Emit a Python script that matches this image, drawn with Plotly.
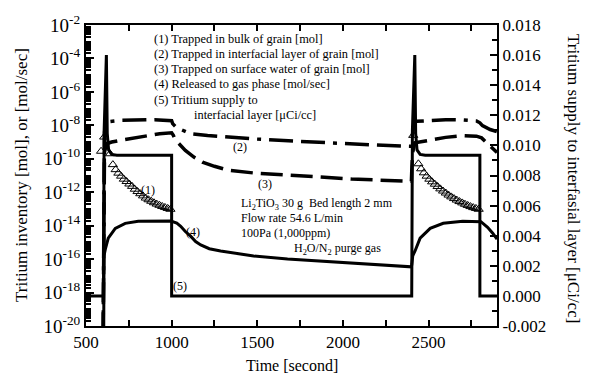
import plotly.graph_objects as go

# ---------------- data ----------------
# (1) Trapped in bulk of grain [mol]  -> log10 values (markers only)
t1 = [588, 606, 640, 657, 673, 689, 705, 721, 737, 753, 769, 785, 801, 817, 833, 849, 865, 881,
      897, 913, 929, 945, 961, 977, 993,
      2411, 2441, 2457, 2473, 2489, 2505, 2521, 2537, 2553, 2569, 2585, 2601, 2617, 2633, 2649,
      2665, 2681, 2697, 2713, 2729, 2745, 2761, 2777, 2793]
l1 = [-9.55, -8.7, -9.7, -10.35, -10.65, -10.86, -11.04, -11.22, -11.36, -11.51, -11.65, -11.82,
      -11.96, -12.09, -12.22, -12.35, -12.45, -12.54, -12.63, -12.71, -12.78, -12.85, -12.91,
      -12.97, -13.02,
      -8.6, -10.3, -10.6, -10.84, -11.04, -11.22, -11.38, -11.52, -11.66, -11.8, -11.93, -12.05,
      -12.17, -12.28, -12.38, -12.47, -12.56, -12.64, -12.72, -12.79, -12.86, -12.92, -12.97, -13.02]

# (2) Trapped in interfacial layer of grain [mol]
t2 = [600, 603, 608, 615, 630, 700, 800, 900, 1000, 1006, 1030, 1064, 1111, 1210, 1345, 1491,
      1654, 1753, 1899, 2057, 2174, 2366, 2400, 2403, 2408, 2415, 2430, 2500, 2600, 2700, 2780,
      2800, 2815, 2860, 2900]
l2 = [-20.5, -10.5, -8.4, -7.95, -7.78, -7.70, -7.66, -7.66, -7.72, -7.90, -8.14, -8.31, -8.50,
      -8.61, -8.72, -8.82, -8.91, -8.96, -9.06, -9.14, -9.17, -9.24, -9.25, -8.8, -8.2, -7.9,
      -7.76, -7.70, -7.66, -7.68, -7.74, -7.85, -8.02, -8.25, -8.38]

# (3) Trapped on surface water of grain [mol]
t3 = [600, 603, 608, 620, 650, 700, 790, 850, 930, 1000, 1010, 1020, 1050, 1080, 1130, 1180,
      1250, 1330, 1480, 1650, 1850, 2050, 2350, 2400, 2403, 2408, 2420, 2500, 2600, 2700, 2780,
      2810, 2840, 2870, 2900]
l3 = [-20.5, -11.5, -9.6, -9.1, -9.0, -8.9, -8.73, -8.6, -8.5, -8.45, -8.6, -8.85, -9.2, -9.5,
      -9.9, -10.2, -10.45, -10.68, -10.85, -10.97, -11.09, -11.21, -11.33, -11.35, -10.5, -9.6,
      -9.05, -8.88, -8.72, -8.62, -8.65, -8.75, -9.05, -9.35, -9.62]

# (4) Released to gas phase [mol/sec]
t4 = [603, 605, 613, 630, 671, 729, 805, 900, 1000, 1006, 1030, 1053, 1080, 1111, 1140, 1170,
      1220, 1286, 1380, 1479, 1677, 1870, 2062, 2261, 2400, 2403, 2408, 2422, 2451, 2510, 2586,
      2700, 2800, 2806, 2845, 2875, 2900]
l4 = [-22, -15.8, -15.4, -14.75, -14.16, -13.86, -13.74, -13.72, -13.72, -13.76, -13.85, -14.04,
      -14.35, -14.63, -14.95, -15.15, -15.38, -15.52, -15.68, -15.81, -15.99, -16.11, -16.22,
      -16.34, -16.46, -16.3, -15.8, -15.5, -14.75, -14.16, -13.86, -13.74, -13.72, -13.76,
      -14.1, -14.45, -14.81]

# (5) Tritium supply to interfacial layer [uCi/cc] (right axis)
t5 = [500, 602, 606, 619, 624, 632, 650, 680, 1000, 1000, 2402, 2406, 2420, 2425, 2433, 2451,
      2481, 2800, 2800, 2900]
v5 = [0, 0, 0.0110, 0.0160, 0.0108, 0.0097, 0.0094, 0.00935, 0.00935, 0, 0, 0.0110, 0.0160,
      0.0108, 0.0097, 0.0094, 0.00935, 0.00935, 0, 0]

x_ticks = [500, 1000, 1500, 2000, 2500]
x_labels = ["500", "1000", "1500", "2000", "2500"]
y_exps = [-20, -18, -16, -14, -12, -10, -8, -6, -4, -2]
y2_ticks = [-0.002, 0.000, 0.002, 0.004, 0.006, 0.008, 0.010, 0.012, 0.014, 0.016, 0.018]
y2_labels = ["-0.002", "0.000", "0.002", "0.004", "0.006", "0.008", "0.010", "0.012",
             "0.014", "0.016", "0.018"]

# ---------------- figure ----------------
FONT = "Liberation Serif, Times New Roman, serif"
fig = go.Figure()

fig.add_trace(go.Scatter(x=t2, y=[10 ** v for v in l2], mode="lines",
                         line=dict(color="black", width=3.5, dash="24px,8px,24px,8px,4px,8px")))
fig.add_trace(go.Scatter(x=t3, y=[10 ** v for v in l3], mode="lines",
                         line=dict(color="black", width=3.5, dash="22px,8px")))
fig.add_trace(go.Scatter(x=t4, y=[10 ** v for v in l4], mode="lines",
                         line=dict(color="black", width=3)))
fig.add_trace(go.Scatter(x=t5, y=v5, mode="lines", yaxis="y2",
                         line=dict(color="black", width=3)))
# (1) is drawn on a twin log axis (same range) which carries the small log ticks
fig.add_trace(go.Scatter(x=t1, y=[10 ** v for v in l1], mode="markers", yaxis="y3",
                         marker=dict(symbol="triangle-up-open", size=8, color="black",
                                     line=dict(width=1, color="black"))))

ytickvals = [10.0 ** e for e in y_exps]
yticktext = ["10<sup>%d</sup>" % e for e in y_exps]
ysmall = [m * 10.0 ** e for e in range(-20, -2) for m in range(1, 10)]

fig.update_layout(
    width=593, height=377,
    margin=dict(l=86, r=96, t=21, b=51),
    paper_bgcolor="white", plot_bgcolor="white",
    showlegend=False,
    font=dict(family=FONT, color="black", size=17),
    xaxis=dict(range=[500, 2900], tickmode="array", tickvals=x_ticks, ticktext=x_labels,
               ticks="inside", ticklen=6, tickwidth=1.5, tickcolor="black",
               minor=dict(dtick=250, tick0=500, ticks="inside", ticklen=6, tickwidth=1.5,
                          tickcolor="black"),
               showline=True, linewidth=2, linecolor="black", mirror="allticks",
               showgrid=False, zeroline=False, tickfont=dict(size=17, family=FONT, color="black")),
    yaxis=dict(type="log", range=[-20, -2], tickmode="array", tickvals=ytickvals,
               ticktext=yticktext, ticks="inside", ticklen=8, tickwidth=2, tickcolor="black",
               showline=True, linewidth=2, linecolor="black", showgrid=False,
               zeroline=False, tickfont=dict(size=19, family=FONT, color="black")),
    yaxis3=dict(type="log", range=[-20, -2], overlaying="y", side="left", anchor="x",
                tickmode="array", tickvals=ysmall, showticklabels=False, ticks="inside",
                ticklen=5, tickwidth=1.6, tickcolor="black", showline=False, showgrid=False,
                zeroline=False),
    yaxis2=dict(overlaying="y", side="right", range=[-0.002, 0.018], tickmode="array",
                tickvals=y2_ticks, ticktext=y2_labels, ticks="inside", ticklen=7, tickwidth=1.6,
                tickcolor="black",
                minor=dict(dtick=0.001, ticks="inside", ticklen=5, tickwidth=1.6,
                           tickcolor="black"),
                showline=True, linewidth=2, linecolor="black", showgrid=False, zeroline=False,
                tickfont=dict(size=17, family=FONT, color="black")),
)

W0, W1, H0, H1 = 86, 497, 21, 326


def px(x):
    return (x - W0) / (W1 - W0)


def py(y):
    return (H1 - y) / (H1 - H0)


def note(text, x, y, size=12, xanchor="left", angle=0):
    fig.add_annotation(text=text, x=px(x), y=py(y), xref="paper", yref="paper",
                       showarrow=False, xanchor=xanchor, yanchor="middle", textangle=angle,
                       font=dict(size=size, family=FONT, color="#000000"))


legend_lines = ["(1) Trapped in bulk of grain [mol]",
                "(2) Trapped in interfacial layer of grain [mol]",
                "(3) Trapped on surface water of grain [mol]",
                "(4) Released to gas phase [mol/sec]",
                "(5) Tritium supply to"]
for i, s in enumerate(legend_lines):
    note(s, 152, 35 + i * 15.4, size=12.4)
note("interfacial layer [μCi/cc]", 192, 112, size=12.4)

note("Li<sub>2</sub>TiO<sub>3</sub> 30 g\u00a0\u00a0Bed length 2 mm", 239, 202)
note("Flow rate 54.6 L/min", 239, 217)
note("100Pa (1,000ppm)", 239, 232)
note("H<sub>2</sub>O/N<sub>2</sub> purge gas", 292, 248)

note("(1)", 148, 188, xanchor="center")
note("(2)", 240, 145, xanchor="center")
note("(3)", 265, 182, xanchor="center")
note("(4)", 193, 231, xanchor="center")
note("(5)", 180, 285, xanchor="center")

note("Time [second]", 292, 366, size=16, xanchor="center")
note("Tritium inventory [mol], or [mol/sec]", 21, 173, size=17, xanchor="center", angle=-90)
note("Tritium supply to interfasial layer [μCi/cc]", 573, 176, size=17, xanchor="center",
     angle=90)

fig.write_html("out.html")
